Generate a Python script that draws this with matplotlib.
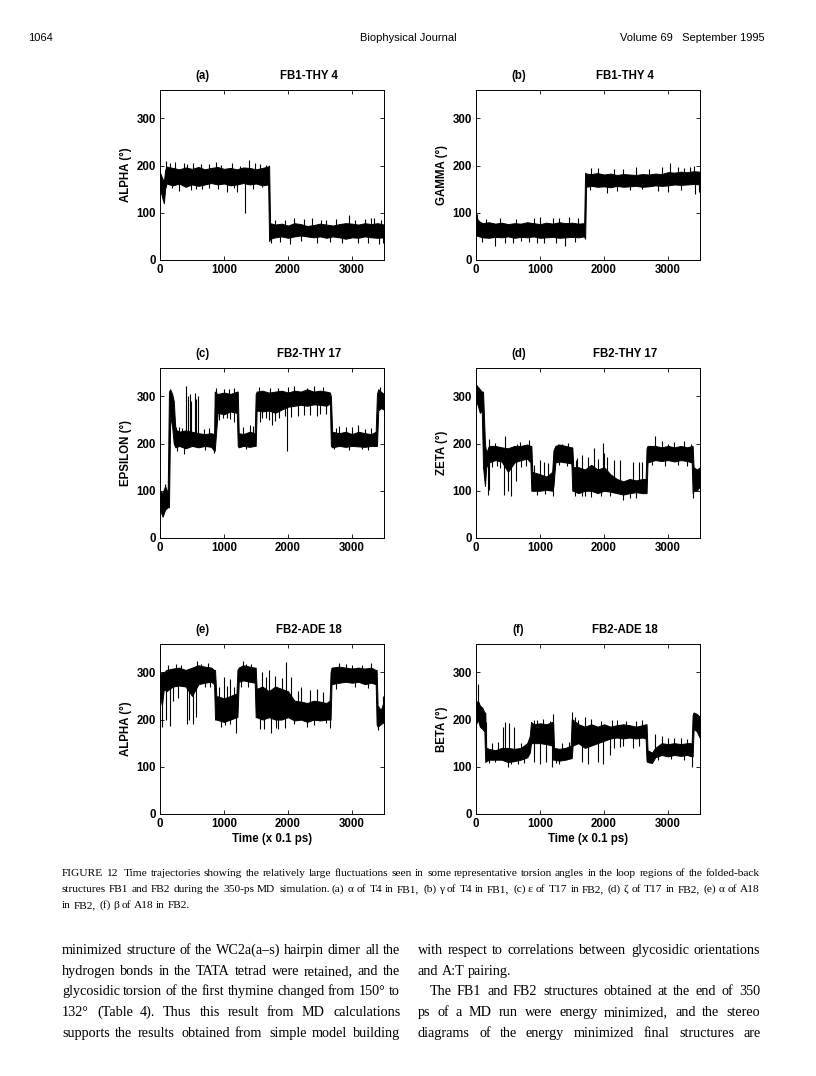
import numpy as np
import matplotlib
matplotlib.use("Agg")
import matplotlib.pyplot as plt
from matplotlib.transforms import IdentityTransform

# ---- data (time in 0.1 ps, angle in degrees) ----
# core band of each trajectory: breakpoints, lower and upper edge
t_a = [0, 30, 60, 80, 100, 200, 300, 400, 500, 600, 700, 800, 900, 1000, 1100, 1200, 1300, 1400, 1500, 1600,
       1690, 1705, 1720, 1800, 1900, 2000, 2100, 2200, 2300, 2400, 2500, 2600, 2700, 2800, 2900, 3000, 3100,
       3200, 3300, 3400, 3500]
lo_a = [150, 135, 120, 150, 162, 158, 162, 155, 160, 157, 160, 163, 160, 162, 158, 160, 163, 160, 162, 158,
        160, 40, 45, 48, 50, 47, 50, 52, 50, 48, 50, 47, 50, 48, 45, 48, 47, 50, 48, 47, 48]
hi_a = [185, 175, 165, 190, 198, 195, 192, 196, 193, 197, 192, 195, 197, 193, 195, 192, 196, 195, 192, 195,
        198, 200, 78, 75, 77, 73, 78, 76, 72, 74, 77, 75, 73, 76, 78, 77, 75, 78, 76, 78, 75]
# single excursions sticking out of the band: time, value
spike_t_a = [100, 230, 380, 640, 1390, 1660, 300, 480, 650, 1050, 1200, 1326, 1740, 2030, 2450, 3100, 3420,
             2100, 2960, 3200, 3350, 2600, 1950,
             160, 420, 520, 760, 880, 960, 1130, 1250, 1480, 1560, 190, 560, 770, 910, 1150, 1460, 1600,
             1800, 2250, 2380, 2520, 2750, 3050, 3300, 3460, 1880, 2200, 2650, 2850, 3250, 3480]
spike_v_a = [210, 208, 205, 203, 211, 202, 147, 148, 150, 145, 143, 100, 37, 34, 36, 35, 33,
             88, 95, 87, 90, 85, 85,
             205, 203, 206, 204, 207, 202, 205, 200, 206, 203, 152, 150, 153, 150, 152, 150, 155,
             85, 86, 88, 84, 86, 85, 88, 84, 38, 40, 38, 36, 37, 35]

t_b = [0, 50, 100, 200, 300, 400, 500, 600, 700, 800, 900, 1000, 1100, 1200, 1300, 1400, 1500, 1600, 1690,
       1705, 1720, 1800, 1900, 2000, 2100, 2200, 2300, 2400, 2500, 2600, 2700, 2800, 2900, 3000, 3100, 3200,
       3300, 3400, 3500]
lo_b = [52, 50, 48, 47, 49, 48, 50, 47, 49, 48, 50, 47, 48, 49, 47, 48, 49, 48, 50,
        45, 155, 157, 155, 156, 154, 157, 155, 156, 157, 155, 156, 158, 157, 158, 160, 159, 160, 161, 160]
hi_b = [90, 82, 78, 80, 77, 79, 76, 78, 77, 80, 78, 76, 79, 77, 80, 78, 79, 77, 78,
        185, 183, 182, 184, 181, 183, 180, 182, 181, 180, 182, 181, 183, 182, 186, 185, 187, 186, 188, 187]
spike_t_b = [20, 900, 1450, 1600, 1900, 2300, 3030, 3150, 3400, 290, 580, 1070, 1392, 2050, 2400, 3000, 3420, 830,
             150, 380, 620, 1000, 1200, 1300, 100, 450, 700, 950, 1250, 1550,
             1800, 2150, 2500, 2700, 2900, 3250, 3350, 1780, 2200, 2600, 2850, 3200, 3480]
spike_v_b = [97, 88, 91, 88, 195, 192, 205, 198, 200, 30, 37, 35, 30, 142, 148, 145, 140, 38,
             87, 90, 86, 92, 88, 90, 38, 36, 40, 37, 35, 38,
             195, 193, 196, 192, 197, 195, 198, 148, 146, 150, 147, 149, 145]

t_c = [0, 40, 80, 120, 140, 160, 190, 215, 240, 300, 400, 500, 600, 700, 800, 845, 855, 900, 1000, 1100,
       1200, 1215, 1230, 1300, 1400, 1480, 1495, 1510, 1600, 1700, 1800, 1900, 2000, 2100, 2200, 2300, 2400,
       2500, 2600, 2655, 2670, 2690, 2800, 2900, 3000, 3100, 3200, 3300, 3370, 3390, 3410, 3450, 3500]
lo_c = [60, 45, 60, 65, 65, 260, 235, 200, 192, 195, 190, 195, 192, 195, 193, 185, 185, 265, 262, 268,
        265, 195, 192, 195, 193, 195, 195, 270, 268, 270, 265, 272, 278, 280, 282, 280, 283,
        282, 280, 285, 195, 192, 195, 193, 195, 194, 193, 195, 195, 195, 270, 275, 272]
hi_c = [100, 95, 110, 95, 310, 315, 305, 290, 230, 225, 228, 225, 222, 220, 222, 220, 310, 305, 308, 305,
        310, 310, 222, 220, 225, 222, 305, 310, 312, 308, 310, 312, 308, 312, 310, 315, 310,
        312, 310, 308, 300, 225, 222, 225, 220, 225, 222, 220, 225, 305, 315, 310, 305]
spike_t_c = [80, 410, 430, 470, 490, 540, 560, 590, 250, 1000, 1150, 1400, 1550, 1850, 2100, 2400, 2800, 3000,
             3100, 3430, 380, 840, 920, 1050, 1160, 1560, 1650, 1750, 1860, 1990, 2150, 2250, 2500,
             300, 350, 260, 680, 760, 700, 980, 1100, 880, 1080, 1300, 1450, 1350,
             1600, 1700, 1800, 1950, 2050, 2350, 2450, 2600, 1720, 2000, 2300, 2550,
             2750, 2900, 3200, 3300, 2720, 2950, 3150, 3250]
spike_v_c = [115, 321, 300, 305, 290, 307, 295, 300, 235, 315, 318, 240, 320, 318, 322, 322, 238, 235,
             240, 320, 178, 180, 250, 255, 245, 245, 255, 240, 255, 185, 258, 260, 262,
             235, 232, 185, 230, 233, 186, 255, 252, 318, 316, 235, 238, 188,
             255, 250, 248, 258, 256, 260, 258, 262, 318, 320, 318, 319,
             232, 235, 230, 233, 188, 187, 189, 186]

t_d = [0, 30, 60, 90, 110, 140, 160, 200, 300, 400, 500, 600, 700, 800, 850, 865, 880, 1000, 1100, 1190,
       1210, 1240, 1300, 1400, 1490, 1505, 1520, 1600, 1700, 1800, 1900, 2000, 2100, 2200, 2300, 2400, 2500,
       2600, 2650, 2665, 2680, 2800, 2900, 3000, 3100, 3200, 3300, 3370, 3385, 3400, 3450, 3500]
lo_d = [290, 280, 265, 270, 150, 110, 150, 160, 165, 162, 140, 160, 165, 168, 160, 100, 100, 100, 102, 100,
        110, 160, 162, 160, 158, 100, 100, 95, 100, 100, 95, 100, 98, 95, 92, 95, 97,
        95, 95, 95, 160, 165, 163, 165, 162, 165, 163, 160, 95, 100, 100, 110]
hi_d = [325, 320, 315, 310, 310, 200, 180, 195, 195, 192, 190, 195, 195, 198, 195, 195, 140, 135, 130, 140,
        185, 195, 198, 195, 192, 192, 150, 150, 145, 155, 145, 150, 135, 125, 120, 125, 122,
        125, 125, 190, 195, 195, 192, 195, 192, 195, 192, 195, 195, 150, 145, 150]
spike_t_d = [180, 200, 430, 500, 540, 620, 1200, 1550, 1700, 2300, 2400, 3390, 210, 460, 640, 830, 1000,
             1060, 1280, 1850, 1986, 2000, 2150, 2600, 2798, 3000, 3360, 1560, 1650,
             250, 330, 380, 300, 700, 780, 680, 900, 1120, 950, 1080, 1350, 1440, 1300, 1420,
             1580, 1750, 1900, 2050, 2250, 2450, 2550, 1660, 1800, 1950, 2100, 2500,
             2900, 3100, 3250, 2750, 2950, 3150, 3300]
spike_v_d = [92, 102, 92, 100, 90, 120, 88, 88, 90, 80, 85, 85, 210, 217, 200, 207, 165,
             160, 200, 190, 201, 180, 165, 160, 217, 200, 200, 165, 175,
             150, 152, 148, 202, 150, 152, 203, 155, 158, 92, 94, 200, 202, 155, 152,
             170, 172, 168, 171, 165, 160, 162, 88, 86, 90, 88, 85,
             205, 203, 206, 155, 152, 154, 153]

t_e = [0, 30, 60, 100, 200, 300, 400, 500, 600, 700, 800, 845, 860, 880, 1000, 1100, 1195, 1210, 1230, 1300,
       1400, 1480, 1495, 1510, 1600, 1700, 1800, 1900, 2000, 2100, 2200, 2300, 2400, 2500, 2600, 2650, 2665,
       2680, 2800, 2900, 3000, 3100, 3200, 3300, 3370, 3385, 3400, 3450, 3500]
lo_e = [250, 230, 265, 260, 270, 272, 270, 250, 275, 278, 280, 275, 200, 200, 195, 200, 205, 205, 280, 283,
        280, 278, 205, 205, 200, 205, 200, 200, 205, 198, 200, 195, 200, 198, 200, 200, 200,
        275, 278, 280, 278, 280, 275, 278, 275, 190, 185, 190, 195]
hi_e = [295, 300, 300, 305, 308, 310, 305, 310, 315, 312, 310, 305, 305, 250, 245, 250, 255, 305, 310, 315,
        312, 310, 310, 265, 270, 260, 270, 265, 260, 240, 238, 235, 240, 238, 235, 240, 300,
        310, 312, 310, 308, 310, 308, 310, 305, 305, 230, 220, 240]
spike_t_e = [30, 100, 161, 415, 450, 520, 560, 1100, 1190, 1560, 1738, 1850, 1950, 2300, 2650, 3400,
             400, 571, 640, 1000, 1100, 1300, 1350, 1600, 1700, 1971, 2050, 2200, 2450, 2800, 3000, 3480,
             120, 250, 330, 200, 280, 700, 780, 750, 920, 1050, 1150, 950, 1020, 1420, 1260, 1380,
             1650, 1800, 1900, 1620, 1810, 2150, 2350, 2550, 2100, 2400, 2600,
             2900, 3150, 3300, 2750, 3050, 3250]
spike_v_e = [185, 200, 186, 190, 200, 190, 205, 190, 172, 180, 171, 180, 182, 185, 182, 178,
             305, 323, 318, 290, 285, 325, 318, 300, 305, 321, 290, 270, 265, 320, 315, 250,
             315, 318, 316, 240, 245, 270, 268, 320, 270, 272, 268, 185, 188, 318, 270, 268,
             290, 292, 288, 180, 182, 260, 262, 258, 190, 188, 192,
             318, 316, 319, 265, 268, 266]

t_f = [0, 30, 60, 100, 130, 145, 160, 200, 300, 400, 500, 600, 700, 800, 840, 860, 900, 1000, 1100, 1190,
       1205, 1220, 1300, 1400, 1480, 1495, 1510, 1600, 1700, 1800, 1900, 2000, 2100, 2200, 2300, 2400, 2500,
       2600, 2650, 2665, 2680, 2750, 2800, 2900, 3000, 3100, 3200, 3300, 3370, 3385, 3400, 3450, 3500]
lo_f = [190, 200, 185, 180, 175, 110, 112, 115, 115, 115, 110, 112, 115, 120, 130, 150, 150, 150, 148, 145,
        115, 115, 113, 115, 118, 118, 145, 150, 140, 145, 150, 155, 160, 162, 160, 162, 160,
        162, 160, 112, 110, 108, 120, 125, 122, 125, 123, 125, 122, 122, 180, 175, 160]
hi_f = [235, 240, 230, 225, 215, 215, 140, 138, 135, 140, 140, 138, 140, 150, 165, 195, 190, 192, 190, 195,
        195, 140, 138, 140, 145, 200, 200, 190, 185, 190, 185, 190, 185, 188, 190, 188, 185,
        188, 190, 190, 135, 130, 140, 150, 148, 150, 148, 150, 150, 210, 215, 212, 205]
spike_t_f = [30, 150, 420, 450, 520, 600, 900, 1200, 1500, 1550, 1700, 2200, 2800, 2900, 3100,
             500, 540, 650, 910, 1000, 1100, 1190, 1300, 1650, 1750, 1900, 1980, 2100, 2300, 3380,
             250, 350, 200, 300, 700, 750, 950, 1050, 1150, 1350, 1450, 1250,
             1600, 1800, 1950, 2120, 2350, 2500, 2600, 2150, 2250, 2450, 2550,
             3000, 3200, 3300, 2850, 3050, 3250]
spike_v_f = [276, 195, 185, 195, 192, 185, 200, 212, 215, 205, 205, 200, 170, 165, 160,
             100, 105, 105, 110, 105, 110, 100, 105, 110, 105, 110, 105, 125, 145, 100,
             150, 152, 108, 110, 150, 108, 200, 202, 198, 150, 152, 108,
             200, 202, 198, 200, 196, 198, 200, 140, 142, 140, 143,
             160, 162, 158, 115, 116, 114]

panel_tags = ["(a)", "(b)", "(c)", "(d)", "(e)", "(f)"]
panel_names = ["FB1-THY 4", "FB1-THY 4", "FB2-THY 17", "FB2-THY 17", "FB2-ADE 18", "FB2-ADE 18"]
y_labels = ["ALPHA (°)", "GAMMA (°)", "EPSILON (°)", "ZETA (°)", "ALPHA (°)", "BETA (°)"]
x_ticks = [0, 1000, 2000, 3000]
y_ticks = [0, 100, 200, 300]

bands = [(t_a, lo_a, hi_a, spike_t_a, spike_v_a),
         (t_b, lo_b, hi_b, spike_t_b, spike_v_b),
         (t_c, lo_c, hi_c, spike_t_c, spike_v_c),
         (t_d, lo_d, hi_d, spike_t_d, spike_v_d),
         (t_e, lo_e, hi_e, spike_t_e, spike_v_e),
         (t_f, lo_f, hi_f, spike_t_f, spike_v_f)]

W, H = 816, 1076
fig = plt.figure(figsize=(W / 100, H / 100), dpi=100)
fig.patch.set_facecolor("white")

sans = ["Liberation Sans", "DejaVu Sans"]
serif = ["Liberation Serif", "DejaVu Serif"]
fs = 8.3

# axes boxes in pixels: left, top, width, height
col_x = [160, 476]
row_top = [90, 368, 644]
box_w, box_h = 224, 170

for i, (t, lo, hi, st, sv) in enumerate(bands):
    r, c = divmod(i, 2)
    ax = fig.add_axes([col_x[c] / W, 1 - (row_top[r] + box_h) / H, box_w / W, box_h / H])
    t, lo, hi = np.array(t), np.array(lo), np.array(hi)
    ax.fill_between(t, lo, hi, color="black", lw=0.7)
    base = np.interp(st, t, (lo + hi) / 2)
    ax.vlines(st, base, sv, color="black", lw=0.8)
    ax.set_xlim(0, 3500)
    ax.set_ylim(0, 360)
    ax.set_xticks(x_ticks)
    ax.set_yticks(y_ticks)
    ax.tick_params(direction="in", top=True, right=True, length=3, width=0.6, pad=3, labelsize=fs)
    for lab in ax.get_xticklabels() + ax.get_yticklabels():
        lab.set_fontweight("bold")
        lab.set_family(sans)
    for sp in ax.spines.values():
        sp.set_linewidth(0.7)
    ax.set_ylabel(y_labels[i], fontsize=fs, fontweight="bold", family=sans, labelpad=3)
    if r == 2:
        ax.set_xlabel("Time (x 0.1 ps)", fontsize=fs, fontweight="bold", family=sans, labelpad=2)
    ax.text(0.19, 1.08, panel_tags[i], transform=ax.transAxes, ha="center", va="center",
            fontsize=fs, fontweight="bold", family=sans)
    ax.text(0.665, 1.08, panel_names[i], transform=ax.transAxes, ha="center", va="center",
            fontsize=fs, fontweight="bold", family=sans)

# ---- page text ----
px = IdentityTransform()
fig.text(28, H - 38, "1064", transform=px, fontsize=8, family=sans, va="center")
fig.text(408, H - 38, "Biophysical Journal", transform=px, fontsize=8, family=sans, va="center", ha="center")
fig.text(765, H - 38, "Volume 69   September 1995", transform=px, fontsize=8, family=sans, va="center", ha="right")

renderer = fig.canvas.get_renderer()


def line_text(text, x0, x1, y, size, justify=True):
    # y is the baseline in page pixels; words are spread to fill x0..x1
    y = round(y)
    words = text.split(" ")
    items = [fig.text(0, H - y, w, transform=px, fontsize=size, family=serif, va="baseline") for w in words]
    widths = [it.get_window_extent(renderer=renderer).width for it in items]
    space = size * 100 / 72 * 0.25
    if justify and len(words) > 1:
        gap = max((x1 - x0 - sum(widths)) / (len(words) - 1), 1.5)
    else:
        gap = space
    x = x0
    for it, w in zip(items, widths):
        it.set_x(round(x))
        x += w + gap


caption = [
    "FIGURE 12  Time trajectories showing the relatively large fluctuations seen in some representative torsion angles in the loop regions of the folded-back",
    "structures FB1 and FB2 during the 350-ps MD simulation. (a) α of T4 in FB1, (b) γ of T4 in FB1, (c) ε of T17 in FB2, (d) ζ of T17 in FB2, (e) α of A18",
    "in FB2, (f) β of A18 in FB2.",
]
for k, ln in enumerate(caption):
    line_text(ln, 62, 760, 876 + 16 * k, 8.2, justify=(k < 2))

left_col = [
    "minimized structure of the WC2a(a–s) hairpin dimer all the",
    "hydrogen bonds in the TATA tetrad were retained, and the",
    "glycosidic torsion of the first thymine changed from 150° to",
    "132° (Table 4). Thus this result from MD calculations",
    "supports the results obtained from simple model building",
]
right_col = [
    "with respect to correlations between glycosidic orientations",
    "and A:T pairing.",
    "The FB1 and FB2 structures obtained at the end of 350",
    "ps of a MD run were energy minimized, and the stereo",
    "diagrams of the energy minimized final structures are",
]
for k, ln in enumerate(left_col):
    line_text(ln, 62, 400, 954 + 20.7 * k, 10.2)
for k, ln in enumerate(right_col):
    x0 = 430 if k == 2 else 418
    line_text(ln, x0, 760, 954 + 20.7 * k, 10.2, justify=(k != 1))

fig.savefig("out.png", dpi=100)
